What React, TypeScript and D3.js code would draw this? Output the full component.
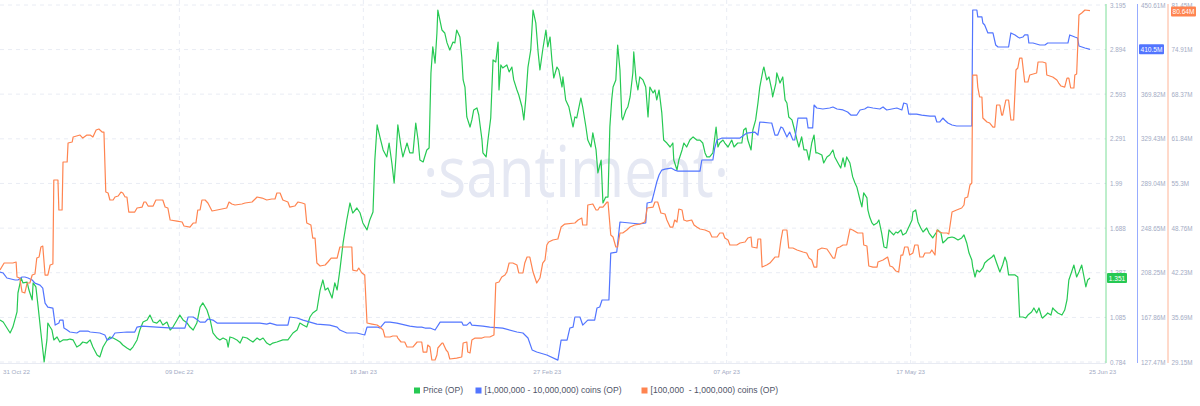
import React from "react";
import * as d3 from "d3";

// ---- data (day offset from 31 Oct 2022, value) ----
const START = new Date(2022, 9, 31);

const priceSeries: [number, number][] = [
[0,1.068],[0.7,1.054],[2.2,0.980],[2.8,1.020],[3.7,1.122],[3.9,1.250],[4.6,1.351],[5.0,1.318],[5.9,1.324],[6.3,1.270],[7.0,1.203],[7.2,1.318],[7.8,1.291],[8.3,1.155],[8.9,0.980],[9.6,0.784],[10.2,0.933],[10.4,1.047],[10.9,1.020],[11.3,1.000],[11.7,0.933],[12.4,0.953],[13.0,0.919],[13.7,0.933],[14.6,0.933],[15.2,0.939],[15.9,0.933],[16.7,0.885],[17.4,0.899],[18.0,0.919],[18.9,0.912],[19.6,0.933],[20.2,0.885],[21.1,0.831],[21.7,0.818],[22.4,0.885],[23.3,0.933],[23.9,0.953],[24.6,0.946],[25.4,0.933],[26.1,0.919],[26.7,0.899],[27.6,0.879],[28.3,0.865],[28.9,0.885],[29.8,0.933],[30.4,1.000],[31.1,1.054],[32.0,1.068],[32.6,1.101],[33.3,1.054],[34.1,1.047],[34.8,1.068],[35.4,1.034],[36.3,1.054],[37.0,1.000],[37.6,1.020],[38.5,1.068],[39.1,1.101],[39.8,1.068],[40.7,1.047],[41.3,1.020],[42.0,1.000],[42.8,1.047],[43.5,1.155],[44.1,1.183],[45.0,1.135],[45.7,1.068],[46.3,0.980],[47.2,0.946],[47.8,0.933],[48.5,0.946],[49.3,0.933],[49.6,0.885],[50.0,0.953],[50.7,0.946],[51.5,0.933],[52.2,0.912],[52.8,0.953],[53.7,0.946],[54.3,0.933],[55.0,0.919],[55.9,0.946],[56.5,0.933],[57.2,0.946],[58.0,0.912],[58.7,0.899],[59.3,0.912],[60.2,0.919],[61.5,0.933],[62.6,0.933],[63.7,0.980],[64.6,1.000],[65.2,1.047],[65.9,1.034],[66.7,1.020],[67.4,1.088],[68.0,1.115],[68.9,1.135],[69.6,1.270],[70.2,1.338],[70.7,1.270],[71.3,1.284],[72.2,1.216],[72.8,1.318],[73.3,1.270],[73.9,1.405],[74.6,1.588],[75.4,1.743],[76.1,1.858],[76.7,1.790],[77.6,1.824],[78.3,1.790],[78.9,1.723],[79.8,1.676],[80.4,1.743],[81.1,1.797],[81.5,2.148],[82.0,2.385],[82.6,2.304],[83.3,2.216],[84.1,2.169],[84.6,2.263],[85.2,2.128],[85.7,1.993],[86.1,2.169],[86.5,2.385],[87.2,2.236],[87.6,2.169],[88.5,2.263],[89.1,2.196],[89.8,2.196],[90.4,2.398],[90.9,2.283],[91.3,2.148],[92.0,2.135],[92.8,2.216],[93.3,2.229],[93.7,2.736],[94.1,2.912],[94.6,2.803],[95.0,3.006],[95.2,3.161],[96.1,3.026],[96.7,3.006],[97.2,2.939],[97.8,2.891],[98.5,2.945],[98.9,2.939],[99.3,3.026],[100.0,2.979],[100.4,2.844],[100.7,2.689],[101.1,2.641],[101.5,2.439],[102.2,2.371],[102.6,2.419],[103.0,2.486],[103.7,2.500],[104.1,2.452],[104.8,2.283],[105.0,2.196],[105.7,2.169],[106.1,2.283],[106.7,2.432],[107.2,2.824],[107.8,2.810],[108.3,2.945],[108.5,2.621],[108.9,2.790],[109.3,2.770],[110.2,2.790],[110.7,2.743],[111.3,2.776],[111.7,2.689],[112.4,2.621],[112.8,2.587],[113.5,2.506],[113.9,2.419],[114.3,2.554],[114.8,2.776],[115.4,2.891],[115.9,3.161],[116.5,3.074],[117.0,2.878],[117.4,2.756],[118.0,2.891],[118.7,3.026],[119.1,2.912],[119.6,2.979],[120.0,2.824],[120.4,2.702],[121.1,2.776],[121.5,2.756],[122.2,2.641],[122.4,2.709],[123.0,2.554],[123.7,2.506],[124.6,2.371],[125.0,2.439],[125.4,2.432],[126.3,2.567],[126.7,2.506],[127.4,2.371],[127.8,2.283],[128.5,2.236],[128.9,2.331],[129.6,2.216],[130.0,2.061],[130.7,2.148],[131.1,1.858],[131.7,1.898],[132.2,1.898],[132.6,2.371],[133.0,2.554],[133.3,2.641],[133.9,2.689],[134.3,2.925],[134.8,2.756],[135.2,2.439],[135.4,2.419],[136.1,2.486],[136.5,2.506],[137.0,2.574],[137.6,2.736],[137.8,2.878],[138.3,2.689],[138.7,2.621],[139.1,2.709],[139.8,2.689],[140.4,2.641],[140.9,2.439],[141.3,2.641],[142.0,2.601],[142.4,2.621],[142.8,2.554],[143.3,2.621],[143.9,2.466],[144.3,2.283],[145.0,2.263],[145.7,2.236],[146.3,2.263],[146.5,2.148],[147.2,2.081],[147.6,2.148],[148.3,2.216],[148.7,2.263],[149.3,2.236],[150.0,2.283],[150.7,2.304],[151.5,2.283],[152.2,2.283],[152.8,2.263],[153.3,2.196],[153.7,2.169],[154.3,2.169],[155.0,2.196],[155.7,2.371],[156.1,2.236],[156.5,2.263],[157.2,2.283],[157.6,2.263],[158.3,2.236],[159.1,2.283],[159.6,2.236],[160.4,2.263],[161.3,2.263],[161.7,2.351],[162.2,2.364],[162.6,2.283],[163.3,2.216],[163.7,2.351],[164.3,2.419],[164.8,2.533],[165.2,2.641],[165.9,2.756],[166.1,2.776],[166.7,2.689],[167.2,2.709],[167.8,2.621],[168.0,2.574],[168.7,2.668],[168.9,2.736],[169.6,2.668],[170.2,2.709],[170.7,2.554],[171.1,2.533],[171.5,2.439],[172.2,2.419],[172.6,2.371],[173.3,2.283],[173.7,2.236],[174.3,2.304],[174.8,2.216],[175.4,2.216],[175.9,2.148],[176.5,2.263],[177.0,2.317],[177.4,2.196],[177.8,2.196],[178.7,2.182],[179.1,2.128],[179.8,2.169],[180.4,2.182],[181.1,2.216],[181.5,2.169],[182.2,2.128],[182.8,2.094],[183.3,2.162],[183.7,2.101],[184.1,2.169],[184.8,2.128],[185.4,2.034],[185.9,1.993],[186.3,1.966],[187.0,1.878],[187.4,1.831],[187.8,1.926],[188.5,1.892],[188.7,1.811],[189.1,1.763],[189.6,1.723],[190.0,1.709],[190.7,1.723],[191.1,1.743],[191.7,1.655],[192.2,1.561],[192.8,1.554],[193.3,1.676],[193.9,1.655],[194.3,1.642],[194.8,1.662],[195.2,1.655],[195.9,1.676],[196.3,1.642],[197.0,1.655],[197.6,1.696],[198.3,1.743],[198.5,1.797],[199.1,1.811],[199.6,1.730],[200.2,1.689],[200.7,1.662],[201.5,1.689],[202.0,1.655],[202.8,1.622],[203.5,1.655],[203.9,1.676],[204.6,1.655],[205.0,1.588],[205.7,1.608],[206.1,1.622],[207.0,1.628],[207.6,1.622],[208.3,1.608],[209.1,1.622],[209.6,1.642],[210.2,1.588],[210.7,1.520],[211.3,1.473],[211.5,1.426],[212.0,1.358],[212.4,1.405],[213.0,1.392],[213.7,1.419],[214.1,1.453],[214.8,1.473],[215.7,1.493],[216.1,1.507],[216.7,1.453],[217.4,1.392],[218.0,1.439],[218.5,1.493],[218.9,1.459],[219.3,1.372],[220.0,1.372],[220.7,1.372],[221.3,1.358],[221.7,1.088],[222.4,1.088],[223.0,1.081],[223.5,1.101],[224.3,1.122],[224.8,1.149],[225.4,1.115],[225.9,1.149],[226.5,1.088],[226.7,1.081],[227.4,1.101],[227.8,1.115],[228.5,1.101],[228.9,1.149],[229.3,1.135],[230.0,1.115],[230.9,1.101],[231.5,1.135],[232.0,1.203],[232.4,1.338],[233.0,1.392],[233.5,1.439],[234.1,1.358],[234.6,1.392],[235.2,1.439],[235.7,1.358],[236.1,1.291],[236.5,1.338],[237,1.351]
];

const bigHoldersSeries: [number, number][] = [
[0,208.9],[0.7,208.0],[1.5,203.5],[3.3,201.7],[3.9,201.7],[4.8,204.4],[5.4,204.4],[6.1,203.5],[7.0,201.7],[7.6,198.9],[8.7,197.1],[9.3,194.4],[9.8,180.8],[10.4,177.2],[11.5,176.3],[12.0,160.9],[12.8,162.7],[13.0,165.4],[13.7,165.4],[13.9,158.2],[14.6,156.4],[15.2,154.6],[16.7,153.7],[17.4,155.5],[19.1,155.5],[19.6,154.6],[21.7,153.7],[22.8,151.9],[23.3,147.3],[24.3,149.2],[25.0,153.7],[27.6,154.6],[29.3,154.6],[29.8,159.1],[30.9,160.0],[34.1,159.1],[37.6,158.2],[40.2,158.2],[40.9,168.2],[42.0,168.2],[43.0,165.4],[43.5,163.6],[44.6,163.6],[45.2,166.4],[46.3,165.4],[47.2,162.7],[56.5,162.7],[58.0,161.8],[58.7,162.7],[60.2,160.9],[62.6,160.9],[63.0,168.2],[64.6,167.3],[65.9,165.4],[67.4,163.6],[68.9,161.8],[71.7,160.9],[73.3,159.1],[73.9,156.4],[75.4,153.7],[77.6,153.7],[79.3,151.9],[79.8,159.1],[82.0,159.1],[82.6,158.2],[83.7,163.6],[84.8,163.6],[86.3,162.7],[89.1,160.0],[90.7,159.1],[91.7,159.1],[92.4,158.2],[93.5,158.2],[94.6,156.4],[95.7,163.6],[100.4,163.6],[100.7,160.9],[101.5,160.9],[102.2,163.6],[102.6,160.9],[105.0,160.0],[106.5,159.1],[109.3,158.2],[112.4,154.6],[113.7,153.7],[114.8,149.2],[115.7,138.4],[116.7,136.5],[118.9,133.8],[121.3,129.2],[122.0,147.3],[123.3,147.3],[123.9,158.2],[124.6,159.1],[125.0,168.2],[126.1,168.2],[126.7,160.9],[127.8,165.4],[129.3,165.4],[129.8,176.3],[130.4,177.2],[130.9,183.6],[132.4,183.6],[132.8,226.1],[134.1,227.0],[134.8,254.2],[139.1,252.4],[140.4,253.3],[140.7,271.4],[141.7,272.3],[142.2,280.4],[142.8,290.4],[143.3,296.7],[143.9,301.2],[144.6,302.1],[145.9,303.0],[146.7,301.2],[147.4,300.3],[152.2,300.3],[152.6,310.3],[155.0,310.3],[155.4,321.2],[155.9,328.4],[157.0,330.2],[160.9,330.2],[162.4,334.7],[164.1,335.6],[164.8,332.9],[165.2,344.7],[167.4,343.8],[167.8,343.8],[168.5,332.9],[169.1,332.9],[169.8,340.2],[170.2,339.3],[171.1,331.1],[171.7,335.6],[172.4,328.4],[172.8,328.4],[173.5,348.3],[175.4,348.3],[175.7,339.3],[176.7,339.3],[177.0,360.1],[177.6,357.4],[178.9,356.5],[180.4,357.4],[181.1,358.3],[182.0,356.5],[183.3,355.6],[184.3,353.8],[185.0,351.0],[186.3,351.0],[187.0,355.6],[188.0,356.5],[188.7,358.3],[189.8,357.4],[191.3,356.5],[192.0,358.3],[192.8,355.6],[193.9,356.5],[195.0,357.4],[196.1,355.6],[196.5,361.9],[197.2,361.0],[197.6,351.9],[199.3,351.9],[200.4,351.0],[202.2,350.1],[203.3,350.1],[203.7,344.7],[204.3,344.7],[205.0,348.3],[205.4,346.5],[206.1,343.8],[207.0,342.0],[208.0,341.1],[211.3,341.1],[211.5,446.1],[212.4,446.1],[212.6,439.8],[213.5,439.8],[213.7,434.3],[214.1,432.5],[214.8,425.3],[215.9,425.3],[216.5,414.4],[217.0,412.6],[219.3,412.6],[219.8,425.3],[220.7,423.5],[221.3,421.6],[221.7,420.7],[222.4,421.6],[222.8,423.5],[223.5,423.5],[223.7,416.2],[224.6,416.2],[226.1,414.4],[227.2,414.4],[227.8,416.2],[232.2,416.2],[232.6,423.5],[233.7,421.6],[234.3,420.7],[234.6,413.5],[235.9,411.7],[237,410.5]
];

const midHoldersSeries: [number, number][] = [
[0,42.62],[0.9,43.65],[2.8,43.65],[3.5,43.80],[3.7,41.60],[4.3,41.45],[4.8,39.40],[5.4,39.26],[5.9,40.72],[6.5,40.72],[7.0,41.89],[7.6,42.04],[8.0,44.38],[8.5,44.53],[8.9,46.00],[9.3,46.14],[9.8,41.89],[10.4,41.89],[10.9,43.36],[11.5,43.50],[11.7,55.81],[12.6,55.81],[12.8,51.42],[13.5,51.42],[13.7,58.45],[14.6,58.45],[14.8,61.23],[15.7,61.38],[15.9,62.11],[17.4,62.40],[18.0,61.96],[18.9,62.40],[19.6,62.40],[20.2,62.11],[20.9,63.13],[21.5,63.28],[22.2,62.84],[22.6,62.84],[23.0,54.05],[23.5,53.91],[23.9,52.88],[24.6,52.88],[25.0,53.32],[25.7,53.47],[26.3,54.05],[26.7,53.91],[27.2,53.32],[27.6,53.32],[28.0,51.12],[29.3,51.12],[29.8,51.71],[30.9,51.85],[31.3,52.59],[31.7,52.59],[32.2,52.00],[33.3,52.00],[33.9,52.88],[35.4,52.88],[35.9,51.85],[36.5,51.71],[37.0,49.95],[38.5,49.80],[39.6,49.66],[40.0,49.07],[41.3,48.92],[42.0,49.51],[42.6,49.51],[43.0,51.42],[43.5,51.42],[43.9,52.88],[44.6,52.88],[45.2,52.44],[46.1,51.27],[47.2,51.42],[49.3,51.71],[49.8,52.59],[50.4,52.30],[51.1,52.15],[52.6,52.30],[53.3,52.44],[54.8,52.59],[55.9,53.32],[57.0,53.17],[58.0,52.88],[59.1,53.03],[59.8,53.03],[60.2,53.91],[60.9,53.91],[61.5,52.88],[62.6,52.59],[63.0,51.85],[64.1,52.00],[64.8,52.59],[65.7,52.44],[66.3,52.30],[66.7,49.51],[67.6,49.22],[68.0,47.31],[68.5,47.31],[68.9,43.65],[69.6,43.21],[70.7,43.36],[71.3,43.80],[72.0,44.38],[73.3,44.38],[73.9,46.00],[76.5,46.00],[76.7,42.62],[77.6,42.48],[78.0,42.92],[78.7,42.19],[79.3,41.89],[79.8,34.86],[80.9,34.71],[82.0,34.57],[82.6,34.27],[83.3,33.83],[83.7,32.81],[84.8,32.81],[85.4,32.96],[86.3,32.96],[86.5,32.66],[87.2,32.08],[88.0,32.08],[88.5,31.35],[89.8,31.35],[90.7,32.08],[91.7,32.08],[92.0,30.61],[92.8,30.61],[93.0,31.64],[93.5,31.35],[93.9,29.44],[94.6,29.44],[95.0,30.17],[95.2,31.20],[96.1,31.93],[96.3,31.93],[97.0,30.91],[97.4,30.61],[97.8,29.59],[99.3,29.73],[100.4,29.88],[100.7,31.93],[101.5,32.08],[101.7,30.61],[102.2,30.47],[102.6,32.37],[103.3,32.66],[104.8,32.66],[105.4,32.81],[106.5,32.81],[107.4,33.10],[107.8,40.72],[108.5,40.87],[109.1,41.60],[109.8,41.89],[110.2,42.33],[110.7,43.65],[111.5,43.65],[112.4,43.36],[112.8,42.19],[113.7,42.19],[114.1,43.65],[114.6,44.53],[115.2,44.53],[115.9,42.33],[116.7,40.72],[117.4,41.45],[118.0,43.65],[118.5,44.09],[118.9,46.29],[119.3,46.73],[120.2,47.02],[121.3,47.17],[122.0,48.92],[122.8,49.36],[125.0,49.51],[125.7,49.95],[126.5,50.24],[126.7,49.22],[127.6,49.22],[127.8,52.15],[128.9,52.30],[129.6,51.42],[130.0,51.42],[130.4,51.85],[131.1,51.85],[132.0,52.59],[132.2,52.59],[132.8,47.75],[133.3,47.46],[133.9,46.00],[134.3,46.00],[134.8,48.05],[135.4,48.05],[136.3,48.49],[137.0,48.92],[138.0,49.22],[139.1,49.36],[140.2,49.66],[140.4,50.24],[140.7,51.71],[142.0,51.85],[142.4,52.59],[143.0,52.59],[143.7,50.98],[144.6,50.83],[145.0,49.95],[145.7,48.92],[146.3,48.92],[146.7,49.95],[147.2,49.66],[147.6,51.56],[148.3,51.42],[148.7,49.95],[149.3,49.80],[150.4,49.95],[150.9,49.22],[151.5,48.92],[152.2,48.63],[153.3,48.49],[154.3,48.19],[154.8,47.46],[155.9,47.46],[156.5,48.05],[157.2,48.05],[157.6,47.31],[158.3,47.02],[158.7,46.29],[160.2,46.29],[160.9,46.58],[162.0,46.73],[162.6,47.31],[163.3,47.46],[163.5,46.00],[164.6,45.85],[164.8,47.17],[165.4,47.17],[165.7,43.06],[166.7,43.36],[167.4,43.65],[168.5,44.53],[169.3,44.53],[169.8,47.02],[170.2,48.49],[171.1,48.49],[171.5,45.85],[172.4,45.85],[173.3,45.56],[174.6,45.26],[175.4,45.12],[175.9,44.38],[176.5,44.09],[177.0,43.06],[177.6,43.06],[177.8,45.56],[178.7,45.85],[179.8,45.70],[180.4,45.12],[181.1,44.38],[181.5,44.38],[182.0,45.85],[182.6,46.00],[183.3,46.29],[184.1,46.29],[184.8,48.63],[185.4,48.49],[186.5,48.05],[187.6,48.05],[187.8,46.29],[188.5,46.14],[188.9,43.21],[189.8,43.06],[190.7,43.06],[190.9,43.80],[192.0,44.09],[193.0,44.53],[193.5,43.21],[194.1,43.06],[194.8,42.48],[195.4,42.33],[195.9,44.82],[196.3,44.82],[196.7,46.00],[197.4,46.00],[197.8,44.82],[198.5,45.12],[198.9,46.29],[199.6,46.29],[200.0,44.53],[200.7,44.53],[201.1,45.12],[202.2,45.12],[202.6,45.56],[203.3,44.82],[203.7,48.49],[204.3,48.19],[205.0,48.05],[205.9,48.05],[206.3,47.90],[207.0,51.12],[208.0,51.42],[209.1,51.71],[209.6,52.15],[209.8,53.17],[210.4,53.32],[210.9,55.08],[211.3,55.37],[211.5,71.19],[212.4,71.19],[212.6,69.43],[213.0,67.97],[213.5,67.97],[213.7,64.89],[214.6,64.31],[215.2,64.16],[215.9,63.57],[216.3,63.57],[216.7,66.80],[217.4,66.80],[217.8,65.33],[218.0,65.33],[218.7,67.53],[219.3,67.53],[219.8,64.60],[220.4,64.60],[220.9,71.93],[221.3,72.22],[221.7,73.68],[222.2,73.68],[222.8,70.17],[223.5,70.17],[223.9,71.19],[225.4,71.49],[225.7,73.10],[226.7,73.10],[227.4,72.95],[227.6,71.19],[228.9,70.90],[229.8,70.46],[230.2,70.02],[230.7,69.58],[231.5,69.43],[232.0,70.75],[232.4,70.75],[232.8,69.29],[233.5,69.29],[233.7,71.19],[234.1,71.34],[234.6,79.98],[235.2,80.28],[235.9,80.72],[237,80.64]
];

// ---- axes ----
const dateTickLabels = ["31 Oct 22", "09 Dec 22", "18 Jan 23", "27 Feb 23", "07 Apr 23", "17 May 23", "25 Jun 23"];
const priceTicks = [3.195, 2.894, 2.593, 2.291, 1.99, 1.688, 1.387, 1.085, 0.784];
const priceTickLabels = ["3.195", "2.894", "2.593", "2.291", "1.99", "1.688", "1.387", "1.085", "0.784"];
const bigTicks = [450.61, 410.22, 369.82, 329.43, 289.04, 248.65, 208.25, 167.86, 127.47];
const bigTickLabels = ["450.61M", "410.22M", "369.82M", "329.43M", "289.04M", "248.65M", "208.25M", "167.86M", "127.47M"];
const midTicks = [81.45, 74.91, 68.37, 61.84, 55.3, 48.76, 42.23, 35.69, 29.15];
const midTickLabels = ["81.45M", "74.91M", "68.37M", "61.84M", "55.3M", "48.76M", "42.23M", "35.69M", "29.15M"];

const legendLabels = ["Price (OP)", "[1,000,000 - 10,000,000) coins (OP)", "[100,000  - 1,000,000) coins (OP)"];
const COLORS = { price: "#26c953", big: "#5275ff", mid: "#ff8450" };

const W = 1200, H = 406;
const FONT = "'Liberation Sans', Arial, sans-serif";

export default function App() {
  const dayToDate = (d: number) => new Date(START.getTime() + d * 86400000);
  const x = d3.scaleTime().domain([START, dayToDate(237)]).range([0, 1090]);
  const yP = d3.scaleLinear().domain([0.784, 3.195]).range([362, 5]);
  const yB = d3.scaleLinear().domain([127.47, 450.61]).range([362, 5]);
  const yM = d3.scaleLinear().domain([29.15, 81.45]).range([362, 5]);

  const mk = (y: d3.ScaleLinear<number, number>) =>
    d3.line<[number, number]>().x((d) => x(dayToDate(d[0]))).y((d) => y(d[1]));

  const parse = d3.timeParse("%d %b %y");
  const tickDates = dateTickLabels.map((s) => parse(s) as Date);

  const axisX = { price: 1106, big: 1137.5, mid: 1168 };
  const tickColor = "#a3abc4";
  const gridColor = "#e9ecf4";

  const lastP = priceSeries[priceSeries.length - 1][1];
  const lastB = bigHoldersSeries[bigHoldersSeries.length - 1][1];
  const lastM = midHoldersSeries[midHoldersSeries.length - 1][1];
  const badgeY = { price: yP(lastP), big: yB(lastB), mid: yM(lastM) + 1 };
  // a tick label sitting right under a value badge is covered by it
  const covered = (ty: number, by: number) => Math.abs(ty - by) < 3;

  const badge = (cx: number, cy: number, w: number, label: string, color: string) => (
    <g>
      <rect x={cx} y={cy - 5} width={w} height={10} fill={color} rx={1} />
      <text x={cx + w / 2} y={cy + 0.3} fill="#fff" fontSize={6.6} textAnchor="middle" dominantBaseline="central" fontFamily={FONT}>
        {label}
      </text>
    </g>
  );

  const legendItems = [
    { label: legendLabels[0], color: COLORS.price, sx: 414 },
    { label: legendLabels[1], color: COLORS.big, sx: 475.5 },
    { label: legendLabels[2], color: COLORS.mid, sx: 641.5 },
  ];

  return (
    <svg width={W} height={H} style={{ position: "absolute", left: 0, top: 0, background: "#fff" }}>
      {priceTicks.map((t, i) => (
        <line key={"h" + i} x1={0} x2={axisX.price} y1={yP(t)} y2={yP(t)} stroke={gridColor} strokeDasharray="4,4" strokeWidth={1} />
      ))}
      {tickDates.slice(1, -1).map((d, i) => (
        <line key={"v" + i} x1={x(d)} x2={x(d)} y1={0} y2={363} stroke={gridColor} strokeDasharray="4,4" strokeWidth={1} />
      ))}
      <line x1={0} x2={axisX.price} y1={363.5} y2={363.5} stroke="#e8ebf3" strokeWidth={1} />

      <text x={423} y={197} fontSize={72} fill="#e5e8f3" fontFamily="'Open Sans', sans-serif" textLength={306} lengthAdjust="spacingAndGlyphs">
        ·santiment·
      </text>

      <path d={mk(yP)(priceSeries) || ""} fill="none" stroke={COLORS.price} strokeWidth={1.2} strokeLinejoin="round" />
      <path d={mk(yB)(bigHoldersSeries) || ""} fill="none" stroke={COLORS.big} strokeWidth={1.2} strokeLinejoin="round" />
      <path d={mk(yM)(midHoldersSeries) || ""} fill="none" stroke={COLORS.mid} strokeWidth={1.2} strokeLinejoin="round" />

      {tickDates.map((d, i) => {
        const first = i === 0;
        const last = i === tickDates.length - 1;
        return (
          <text key={"xl" + i} x={first ? x(d) + 3 : last ? x(d) - 1 : x(d)} y={374} fontSize={6.2} fill={tickColor}
            textAnchor={first || last ? "start" : "middle"} fontFamily={FONT}>
            {dateTickLabels[i]}
          </text>
        );
      })}

      <line x1={axisX.price} x2={axisX.price} y1={4} y2={363} stroke={COLORS.price} strokeOpacity={0.6} strokeWidth={1} />
      <line x1={axisX.big} x2={axisX.big} y1={4} y2={363} stroke={COLORS.big} strokeOpacity={0.6} strokeWidth={1} />
      <line x1={axisX.mid} x2={axisX.mid} y1={4} y2={363} stroke={COLORS.mid} strokeOpacity={0.6} strokeWidth={1} />
      {priceTicks.map((t, i) =>
        covered(yP(t), badgeY.price) ? null : (
          <text key={"pt" + i} x={axisX.price + 4} y={yP(t)} fontSize={6.3} fill={tickColor} dominantBaseline="central" fontFamily={FONT}>
            {priceTickLabels[i]}
          </text>
        )
      )}
      {bigTicks.map((t, i) =>
        covered(yB(t), badgeY.big) ? null : (
          <text key={"bt" + i} x={axisX.big + 3.5} y={yB(t)} fontSize={6.3} fill={tickColor} dominantBaseline="central" fontFamily={FONT}>
            {bigTickLabels[i]}
          </text>
        )
      )}
      {midTicks.map((t, i) =>
        covered(yM(t), badgeY.mid) ? null : (
          <text key={"mt" + i} x={axisX.mid + 3.5} y={yM(t)} fontSize={6.3} fill={tickColor} dominantBaseline="central" fontFamily={FONT}>
            {midTickLabels[i]}
          </text>
        )
      )}

      {badge(axisX.price + 1, badgeY.price, 20, d3.format(".3f")(lastP), COLORS.price)}
      {badge(axisX.big + 1.5, badgeY.big, 25, `${d3.format(".1f")(lastB)}M`, COLORS.big)}
      {badge(axisX.mid + 3, badgeY.mid, 25, `${d3.format(".2f")(lastM)}M`, COLORS.mid)}

      {legendItems.map((it, i) => (
        <g key={"lg" + i}>
          <rect x={it.sx} y={387.5} width={6} height={6} fill={it.color} />
          <text x={it.sx + 9} y={393.3} fontSize={8.6} fill="#4f5468" fontFamily={FONT} style={{ whiteSpace: "pre" }}>
            {it.label}
          </text>
        </g>
      ))}
    </svg>
  );
}
